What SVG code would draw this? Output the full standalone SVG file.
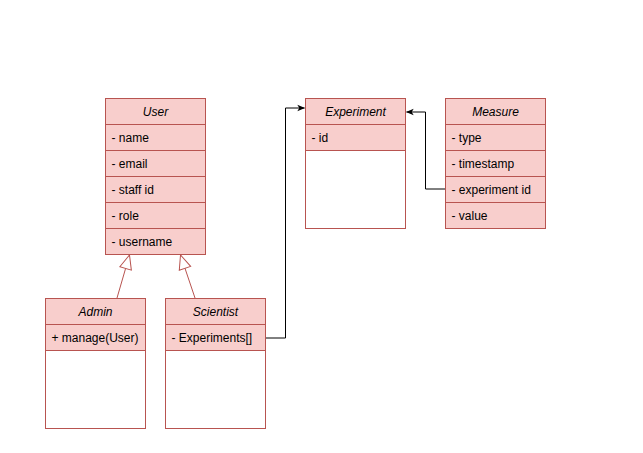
<svg xmlns="http://www.w3.org/2000/svg" width="643" height="453" viewBox="0 0 643 453">
<style>
.box{fill:#f8cecc;stroke:#b85450;stroke-width:1}
.body{fill:#ffffff;stroke:#b85450;stroke-width:1}
.t{font-family:"Liberation Sans",Arial,sans-serif;font-size:12px;fill:#000}
.h{font-style:italic;text-anchor:middle}
.e{fill:none;stroke:#000;stroke-width:1}
.g{fill:none;stroke:#b85450;stroke-width:1}
</style>
<defs>
<marker id="arr" viewBox="0 0 10 10" refX="9" refY="5" markerWidth="8" markerHeight="8" markerUnits="userSpaceOnUse" orient="auto">
<path d="M0,1 L10,5 L0,9 L2.5,5 Z" fill="#000"/>
</marker>
<marker id="tri" viewBox="0 0 16 16" refX="15" refY="8" markerWidth="16" markerHeight="16" markerUnits="userSpaceOnUse" orient="auto">
<path d="M1,2 L15,8 L1,14 Z" fill="#fff" stroke="#b85450" stroke-width="1"/>
</marker>
</defs>
<rect width="643" height="453" fill="#fff"/>
<g id="connectors">
<path class="g" d="M117,298 L129.5,255" marker-end="url(#tri)"/>
<path class="g" d="M195,298 L180.5,255" marker-end="url(#tri)"/>
<path class="e" d="M265.5,338 L285.5,338 L285.5,108 L304.5,108" marker-end="url(#arr)"/>
<path class="e" d="M445.5,189 L425.5,189 L425.5,112 L406.5,112" marker-end="url(#arr)"/>
</g>
<g id="user">
<rect class="box" x="105.5" y="98.5" width="100" height="156"/>
<line class="g" x1="105.5" y1="124.5" x2="205.5" y2="124.5"/>
<line class="g" x1="105.5" y1="150.5" x2="205.5" y2="150.5"/>
<line class="g" x1="105.5" y1="176.5" x2="205.5" y2="176.5"/>
<line class="g" x1="105.5" y1="202.5" x2="205.5" y2="202.5"/>
<line class="g" x1="105.5" y1="228.5" x2="205.5" y2="228.5"/>
<text class="t h" x="155.5" y="116">User</text>
<text class="t" x="111.5" y="142">- name</text>
<text class="t" x="111.5" y="168">- email</text>
<text class="t" x="111.5" y="194">- staff id</text>
<text class="t" x="111.5" y="220">- role</text>
<text class="t" x="111.5" y="246">- username</text>
</g>
<g id="admin">
<rect class="body" x="45.5" y="298.5" width="100" height="130"/>
<rect class="box" x="45.5" y="298.5" width="100" height="52"/>
<line class="g" x1="45.5" y1="324.5" x2="145.5" y2="324.5"/>
<text class="t h" x="95.5" y="316">Admin</text>
<text class="t" x="51.5" y="342">+ manage(User)</text>
</g>
<g id="scientist">
<rect class="body" x="165.5" y="298.5" width="100" height="130"/>
<rect class="box" x="165.5" y="298.5" width="100" height="52"/>
<line class="g" x1="165.5" y1="324.5" x2="265.5" y2="324.5"/>
<text class="t h" x="215.5" y="316">Scientist</text>
<text class="t" x="171.5" y="342">- Experiments[]</text>
</g>
<g id="experiment">
<rect class="body" x="305.5" y="98.5" width="100" height="130"/>
<rect class="box" x="305.5" y="98.5" width="100" height="52"/>
<line class="g" x1="305.5" y1="124.5" x2="405.5" y2="124.5"/>
<text class="t h" x="355.5" y="116">Experiment</text>
<text class="t" x="311.5" y="142">- id</text>
</g>
<g id="measure">
<rect class="box" x="445.5" y="98.5" width="100" height="130"/>
<line class="g" x1="445.5" y1="124.5" x2="545.5" y2="124.5"/>
<line class="g" x1="445.5" y1="150.5" x2="545.5" y2="150.5"/>
<line class="g" x1="445.5" y1="176.5" x2="545.5" y2="176.5"/>
<line class="g" x1="445.5" y1="202.5" x2="545.5" y2="202.5"/>
<text class="t h" x="495.5" y="116">Measure</text>
<text class="t" x="451.5" y="142">- type</text>
<text class="t" x="451.5" y="168">- timestamp</text>
<text class="t" x="451.5" y="194">- experiment id</text>
<text class="t" x="451.5" y="220">- value</text>
</g>
</svg>
